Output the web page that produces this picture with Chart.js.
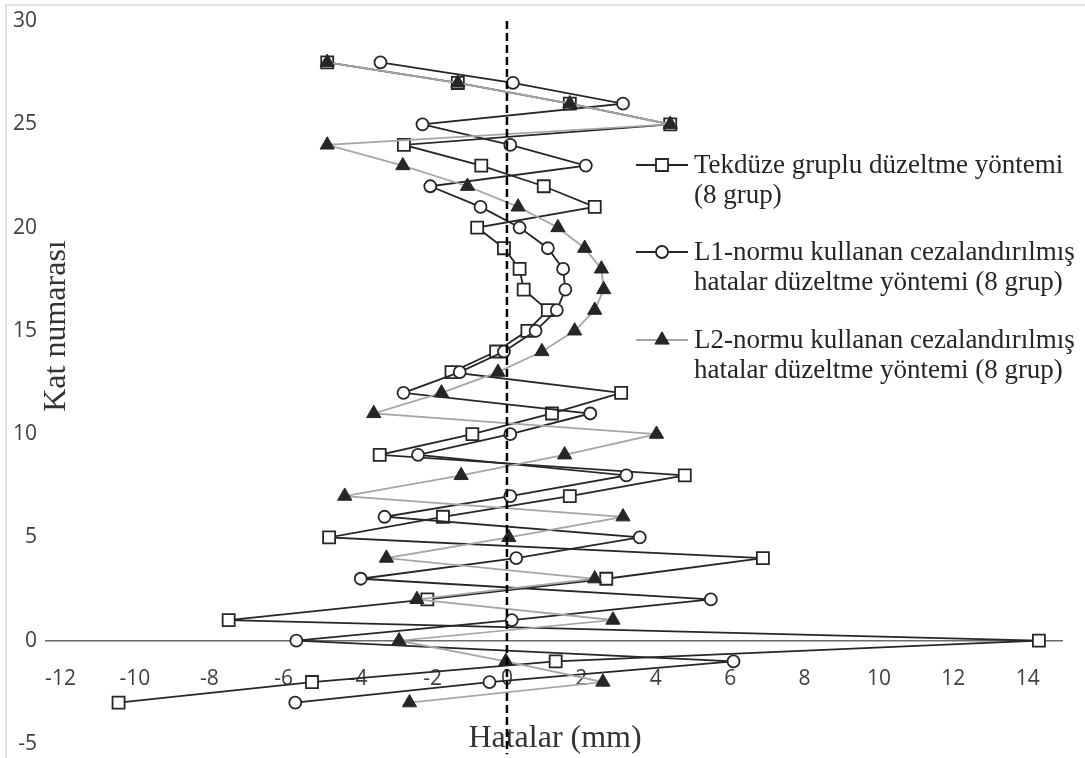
<!DOCTYPE html>
<html>
<head>
<meta charset="utf-8">
<script src="https://cdn.jsdelivr.net/npm/chart.js@4.4.1/dist/chart.umd.min.js"></script>
<style>
  html, body { margin: 0; padding: 0; background: #fff; }
  canvas { display: block; }
</style>
</head>
<body>
<canvas id="chart" width="1085" height="758"></canvas>
<script>
// floor number (y) against the error in mm (x), one array per correction method
const floors = [-3, -2, -1, 0, 1, 2, 3, 4, 5, 6, 7, 8, 9, 10, 11, 12, 13, 14, 15,
  16, 17, 18, 19, 20, 21, 22, 23, 24, 25, 26, 27, 28];

const tekduze = [-10.44, -5.24, 1.31, 14.30, -7.48, -2.14, 2.67, 6.88, -4.78, -1.72,
  1.69, 4.78, -3.42, -0.93, 1.21, 3.07, -1.49, -0.29, 0.55, 1.10, 0.45, 0.34, -0.08,
  -0.80, 2.36, 0.99, -0.69, -2.77, 4.39, 1.69, -1.32, -4.83];

const l1Norm = [-5.69, -0.47, 6.09, -5.66, 0.13, 5.48, -3.93, 0.25, 3.57, -3.29,
  0.09, 3.21, -2.39, 0.09, 2.24, -2.78, -1.27, -0.08, 0.77, 1.34, 1.57, 1.51, 1.10,
  0.34, -0.71, -2.06, 2.12, 0.09, -2.27, 3.12, 0.16, -3.40];

const l2Norm = [-2.62, 2.58, -0.03, -2.90, 2.85, -2.42, 2.36, -3.24, 0.05, 3.12,
  -4.36, -1.23, 1.55, 4.02, -3.58, -1.76, -0.24, 0.94, 1.82, 2.36, 2.60, 2.54, 2.09,
  1.37, 0.30, -1.06, -2.80, -4.83, 4.39, 1.69, -1.32, -4.83];

// dashed zero line
const zeroLineX = [0, 0];
const zeroLineY = [30, -5.5];

const xTicks = [-12, -10, -8, -6, -4, -2, 0, 2, 4, 6, 8, 10, 12, 14];
const yTicks = [-5, 0, 5, 10, 15, 20, 25, 30];

const seriesNames = [
  ["Tekdüze gruplu düzeltme yöntemi", "(8 grup)"],
  ["L1-normu kullanan cezalandırılmış", "hatalar düzeltme yöntemi (8 grup)"],
  ["L2-normu kullanan cezalandırılmış", "hatalar düzeltme yöntemi (8 grup)"]
];
const xTitle = "Hatalar (mm)";
const yTitle = "Kat numarası";

const toPoints = (xs, ys) => xs.map((x, i) => ({ x: x, y: ys[i] }));

const DARK = "#262626";
const GREY = "#a6a6a6";
const SERIF = "'Liberation Serif', 'Times New Roman', serif";

// titles, frame and the multi-line legend are drawn by hand
const overlay = {
  id: "overlay",
  beforeDraw(chart) {
    const ctx = chart.ctx;
    ctx.save();
    ctx.fillStyle = "#fff";
    ctx.fillRect(0, 0, chart.width, chart.height);
    ctx.strokeStyle = "#d9d9d9";
    ctx.lineWidth = 1.5;
    ctx.beginPath();
    ctx.moveTo(6, chart.height);
    ctx.lineTo(6, 5);
    ctx.lineTo(chart.width, 5);
    ctx.stroke();
    ctx.restore();
  },
  beforeDatasetsDraw(chart) {
    const ctx = chart.ctx;
    ctx.save();
    ctx.fillStyle = "#333";
    ctx.font = "32px " + SERIF;
    ctx.textAlign = "center";
    ctx.textBaseline = "alphabetic";
    ctx.fillText(xTitle, 555, 747);
    ctx.translate(65, 326);
    ctx.rotate(-Math.PI / 2);
    ctx.fillText(yTitle, 0, 0);
    ctx.restore();
  },
  afterDraw(chart) {
    const ctx = chart.ctx;
    const rows = [165, 252, 340];
    ctx.save();
    seriesNames.forEach((lines, i) => {
      const ds = chart.data.datasets[i];
      const y = rows[i];
      ctx.strokeStyle = ds.borderColor;
      ctx.lineWidth = ds.borderWidth;
      ctx.beginPath();
      ctx.moveTo(636, y);
      ctx.lineTo(688, y);
      ctx.stroke();

      const cx = 662;
      ctx.fillStyle = ds.pointBackgroundColor;
      ctx.strokeStyle = ds.pointBorderColor;
      ctx.lineWidth = ds.pointBorderWidth;
      ctx.beginPath();
      if (ds.pointStyle === "rect") {
        const h = ds.pointRadius * Math.SQRT1_2;
        ctx.rect(cx - h, y - h, 2 * h, 2 * h);
      } else if (ds.pointStyle === "circle") {
        ctx.arc(cx, y, ds.pointRadius, 0, Math.PI * 2);
      } else {
        const r = ds.pointRadius;
        ctx.moveTo(cx, y - r);
        ctx.lineTo(cx + r * Math.sin(Math.PI * 2 / 3), y + r / 2);
        ctx.lineTo(cx - r * Math.sin(Math.PI * 2 / 3), y + r / 2);
        ctx.closePath();
      }
      ctx.fill();
      ctx.stroke();

      ctx.fillStyle = DARK;
      ctx.font = "27px " + SERIF;
      ctx.textAlign = "left";
      ctx.textBaseline = "middle";
      lines.forEach((t, k) => ctx.fillText(t, 694, y + 1 + k * 30));
    });
    ctx.restore();
  }
};

const config = {
  type: "scatter",
  data: {
    datasets: [
      {
        label: seriesNames[0].join(" "),
        data: toPoints(tekduze, floors),
        showLine: true,
        borderColor: DARK,
        borderWidth: 1.8,
        pointStyle: "rect",
        pointRadius: 8.5,
        pointBackgroundColor: "#fff",
        pointBorderColor: DARK,
        pointBorderWidth: 1.8,
        order: 3
      },
      {
        label: seriesNames[1].join(" "),
        data: toPoints(l1Norm, floors),
        showLine: true,
        borderColor: DARK,
        borderWidth: 1.8,
        pointStyle: "circle",
        pointRadius: 6,
        pointBackgroundColor: "#fff",
        pointBorderColor: DARK,
        pointBorderWidth: 1.8,
        order: 2
      },
      {
        label: seriesNames[2].join(" "),
        data: toPoints(l2Norm, floors),
        showLine: true,
        borderColor: GREY,
        borderWidth: 1.8,
        pointStyle: "triangle",
        pointRadius: 8.2,
        pointBackgroundColor: DARK,
        pointBorderColor: DARK,
        pointBorderWidth: 1,
        order: 1
      },
      {
        label: "zero",
        data: toPoints(zeroLineX, zeroLineY),
        showLine: true,
        borderColor: "#000",
        borderWidth: 2.5,
        borderDash: [8, 4],
        pointRadius: 0,
        clip: false,
        order: 0
      }
    ]
  },
  options: {
    responsive: false,
    animation: false,
    devicePixelRatio: 1,
    layout: { padding: { top: 21, right: 23, bottom: 14, left: 0 } },
    plugins: {
      legend: { display: false },
      tooltip: { enabled: false }
    },
    scales: {
      x: {
        type: "linear",
        min: -12.39,
        max: 14.92,
        position: { y: 0 },
        afterBuildTicks: (s) => { s.ticks = xTicks.map((v) => ({ value: v })); },
        afterFit: (s) => { s.height = 0; },
        grid: { display: false, drawTicks: false },
        border: { display: true, color: "#6b6b6b", width: 1.5 },
        ticks: {
          padding: 26,
          maxRotation: 0,
          autoSkip: false,
          color: "#404040",
          font: { family: "'Open Sans', sans-serif", size: 21 }
        }
      },
      y: {
        type: "linear",
        min: -5,
        max: 30,
        position: "left",
        afterBuildTicks: (s) => { s.ticks = yTicks.map((v) => ({ value: v })); },
        afterFit: (s) => {
          s.width = 46;
          s.paddingTop = 0;
          s.paddingBottom = 0;
        },
        grid: { display: false, drawTicks: false },
        border: { display: false },
        ticks: {
          padding: 9,
          color: "#404040",
          font: { family: "'Open Sans', sans-serif", size: 21 }
        }
      }
    }
  },
  plugins: [overlay]
};

new Chart(document.getElementById("chart"), config);
</script>
</body>
</html>
